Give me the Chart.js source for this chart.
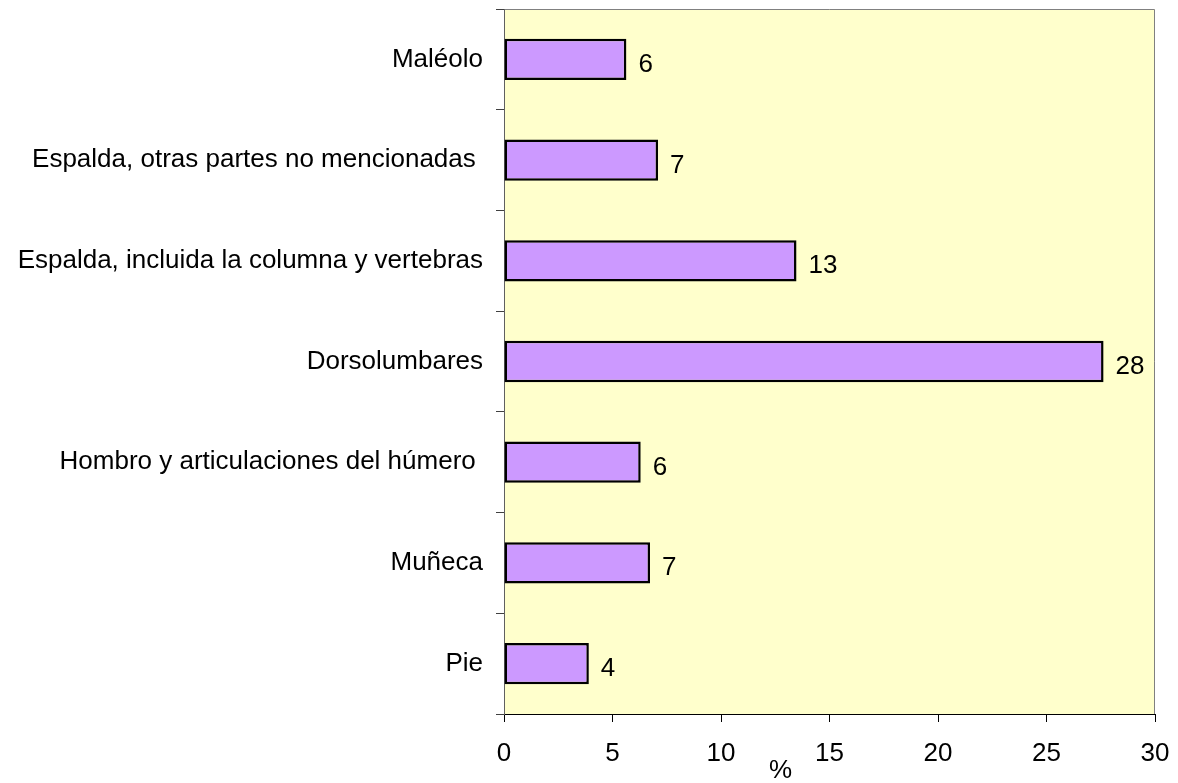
<!DOCTYPE html>
<html>
<head>
<meta charset="utf-8">
<script src="https://cdn.jsdelivr.net/npm/chart.js@4.4.1/dist/chart.umd.min.js"></script>
<style>
  html, body { margin: 0; padding: 0; background: #fff; }
  canvas { display: block; }
</style>
</head>
<body>
<canvas id="lesionesChart" width="1178" height="783"></canvas>
<script>
// categorias de arriba a abajo
const categorias = [
    'Maléolo',
    'Espalda, otras partes no mencionadas ',
    'Espalda, incluida la columna y vertebras',
    'Dorsolumbares',
    'Hombro y articulaciones del húmero ',
    'Muñeca',
    'Pie'
];
const porcentajes = [5.64, 7.1, 13.48, 27.63, 6.3, 6.73, 3.91];
const etiquetas = ['6', '7', '13', '28', '6', '7', '4'];
const ticksX = [0, 5, 10, 15, 20, 25, 30];

const FONT = 'Liberation Sans, Arial, sans-serif';

// fondo amarillo del area de trazado + borde gris
const fondoPlot = {
    id: 'fondoPlot',
    beforeDraw(chart) {
        const { ctx, chartArea: a } = chart;
        ctx.save();
        ctx.fillStyle = '#FFFFCC';
        ctx.fillRect(a.left, a.top, a.right - a.left, a.bottom - a.top);
        ctx.strokeStyle = '#808080';
        ctx.lineWidth = 1;
        ctx.beginPath();
        ctx.moveTo(a.left, a.top + 0.5);
        ctx.lineTo(a.right - 0.5, a.top + 0.5);
        ctx.lineTo(a.right - 0.5, a.bottom);
        ctx.stroke();
        ctx.restore();
    }
};

// valores al final de cada barra y titulo "%"
const etiquetasBarras = {
    id: 'etiquetasBarras',
    afterDatasetsDraw(chart) {
        const { ctx, chartArea: a } = chart;
        const meta = chart.getDatasetMeta(0);
        ctx.save();
        ctx.font = '26px ' + FONT;
        ctx.fillStyle = '#000';
        ctx.textAlign = 'left';
        ctx.textBaseline = 'alphabetic';
        meta.data.forEach((bar, i) => {
            ctx.fillText(etiquetas[i], bar.x + 12, bar.y + 12.5);
        });
        ctx.textAlign = 'center';
        ctx.fillText('%', a.left + (a.right - a.left) * 0.425, 778);
        ctx.restore();
    }
};

function sinPadding(s) {
    s.paddingTop = 0;
    s.paddingBottom = 0;
    s.paddingLeft = 0;
    s.paddingRight = 0;
}

new Chart(document.getElementById('lesionesChart'), {
    type: 'bar',
    data: {
        labels: categorias,
        datasets: [{
            data: porcentajes,
            backgroundColor: '#CC99FF',
            borderColor: '#000',
            borderWidth: 2.5,
            borderSkipped: false,
            categoryPercentage: 1,
            barPercentage: 0.41
        }]
    },
    options: {
        indexAxis: 'y',
        responsive: false,
        animation: false,
        layout: {
            padding: { top: 9, right: 23, left: 0, bottom: 0 }
        },
        plugins: {
            legend: { display: false },
            tooltip: { enabled: false }
        },
        scales: {
            x: {
                min: 0,
                max: 30,
                afterFit: (s) => { s.height = 69; sinPadding(s); },
                afterBuildTicks: (s) => { s.ticks = ticksX.map(v => ({ value: v })); },
                border: { color: '#000', width: 1 },
                grid: {
                    drawOnChartArea: false,
                    drawTicks: true,
                    tickLength: 8,
                    color: '#000'
                },
                ticks: {
                    color: '#000',
                    padding: 16,
                    maxRotation: 0,
                    font: { family: FONT, size: 26 }
                }
            },
            y: {
                afterFit: (s) => { s.width = 504; sinPadding(s); },
                border: { color: '#606060', width: 1 },
                grid: {
                    offset: true,
                    drawOnChartArea: false,
                    drawTicks: true,
                    tickLength: 8,
                    color: '#404040'
                },
                ticks: {
                    color: '#000',
                    padding: 13,
                    font: { family: FONT, size: 26 }
                }
            }
        }
    },
    plugins: [fondoPlot, etiquetasBarras]
});
</script>
</body>
</html>
